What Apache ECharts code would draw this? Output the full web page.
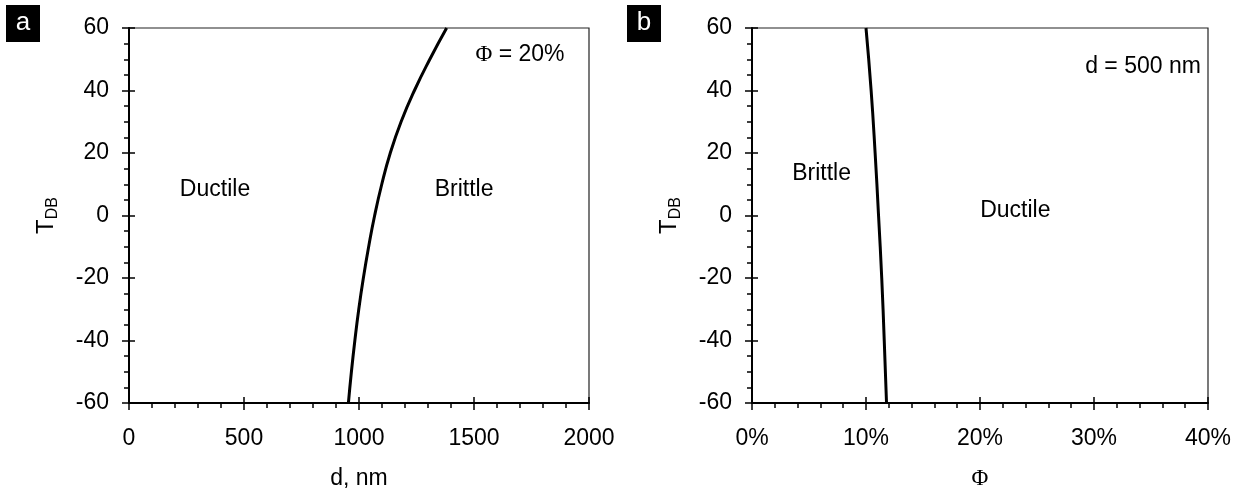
<!DOCTYPE html>
<html>
<head>
<meta charset="utf-8">
<script src="https://cdn.jsdelivr.net/npm/echarts@6/dist/echarts.min.js"></script>
<style>
html,body{margin:0;padding:0;background:#fff;}
#chart{width:1250px;height:495px;}
</style>
</head>
<body>
<div id="chart"></div>
<script>
// Panel a: T_DB vs d at Phi = 20%
const dA = [954, 967, 982, 999, 1019, 1042, 1068, 1099, 1136, 1183, 1241, 1308, 1381];
const tA = [-60, -50, -40, -30, -20, -10, 0, 10, 20, 30, 40, 50, 60];
// Panel b: T_DB vs Phi (%) at d = 500 nm
const phiB = [11.8, 11.6, 11.38, 11.1, 10.8, 10.45, 10.0];
const tB = [-60, -40, -20, 0, 20, 40, 60];
// Axis ticks
const xTicksA = [0, 500, 1000, 1500, 2000];
const xTicksB = [0, 10, 20, 30, 40];
const yTicks = [-60, -40, -20, 0, 20, 40, 60];
// Annotations [x, y, text]
const notesA = [[1700, 51.4, '{s|Φ} = 20%'], [1457, 8.4, 'Brittle'], [374, 8.4, 'Ductile']];
const notesB = [[34.3, 47.6, 'd = 500 nm'], [6.1, 13.5, 'Brittle'], [23.1, 1.4, 'Ductile']];

const FONT = 'Liberation Sans';
const SERIF = 'Liberation Serif';
const FS = 23;

function xAxisPair(grid, ticks, suffix, minorSplit, name, nameFont) {
  const min = ticks[0], max = ticks[ticks.length - 1], interval = ticks[1] - ticks[0];
  return [{
    type: 'value', gridIndex: grid, min, max, interval, position: 'bottom',
    name, nameLocation: 'middle', nameGap: 64,
    nameTextStyle: { fontFamily: nameFont, fontSize: FS, color: '#000' },
    axisLine: { show: true, onZero: false, lineStyle: { color: '#000', width: 2 } },
    axisTick: { show: true, inside: false, length: 7, lineStyle: { color: '#000', width: 1.5 } },
    minorTick: { show: true, splitNumber: minorSplit, length: 5, lineStyle: { color: '#000', width: 1.5 } },
    splitLine: { show: false },
    axisLabel: { fontFamily: FONT, fontSize: FS, color: '#000', margin: 24, formatter: v => String(v) + suffix }
  }, {
    type: 'value', gridIndex: grid, min, max, interval, position: 'bottom',
    axisLine: { show: false, onZero: false },
    axisTick: { show: true, inside: true, length: 6, lineStyle: { color: '#000', width: 1.5 } },
    splitLine: { show: false }, axisLabel: { show: false }
  }];
}
function yAxisPair(grid) {
  return [{
    type: 'value', gridIndex: grid, min: yTicks[0], max: yTicks[yTicks.length - 1], interval: yTicks[1] - yTicks[0], position: 'left',
    name: '{t|T}{s|DB}', nameLocation: 'middle', nameGap: 68, nameRotate: 90,
    nameTextStyle: { fontFamily: FONT, color: '#000',
      rich: { t: { fontFamily: FONT, fontSize: 24, color: '#000', lineHeight: 30, verticalAlign: 'middle' },
              s: { fontFamily: FONT, fontSize: 16, color: '#000', lineHeight: 30, verticalAlign: 'bottom', padding: [12, 0, 0, 0] } } },
    axisLine: { show: true, onZero: false, lineStyle: { color: '#000', width: 2 } },
    axisTick: { show: true, inside: false, length: 7, lineStyle: { color: '#000', width: 1.5 } },
    minorTick: { show: true, splitNumber: 4, length: 5, lineStyle: { color: '#000', width: 1.5 } },
    splitLine: { show: false },
    axisLabel: { fontFamily: FONT, fontSize: FS, color: '#000', margin: 20, formatter: v => String(v) }
  }, {
    type: 'value', gridIndex: grid, min: yTicks[0], max: yTicks[yTicks.length - 1], interval: yTicks[1] - yTicks[0], position: 'left',
    axisLine: { show: false, onZero: false },
    axisTick: { show: true, inside: true, length: 6, lineStyle: { color: '#000', width: 1.5 } },
    splitLine: { show: false }, axisLabel: { show: false }
  }];
}

function zip(xs, ys) { return xs.map((x, i) => [x, ys[i]]); }

const chart = echarts.init(document.getElementById('chart'), null, { renderer: 'canvas' });
chart.setOption({
  animation: false,
  backgroundColor: '#fff',
  grid: [
    { left: 129, top: 28, width: 460, height: 377, show: true, borderColor: '#222', borderWidth: 1.2, backgroundColor: 'transparent' },
    { left: 752, top: 28, width: 456, height: 377, show: true, borderColor: '#222', borderWidth: 1.2, backgroundColor: 'transparent' }
  ],
  xAxis: [
    ...xAxisPair(0, xTicksA, '', 5, 'd, nm', FONT),
    ...xAxisPair(1, xTicksB, '%', 5, 'Φ', SERIF)
  ],
  yAxis: [...yAxisPair(0), ...yAxisPair(1)],
  series: [
    { type: 'line', xAxisIndex: 0, yAxisIndex: 0, data: zip(dA, tA), smooth: 0.5, symbol: 'none',
      lineStyle: { color: '#000', width: 3 } },
    { type: 'line', xAxisIndex: 2, yAxisIndex: 2, data: zip(phiB, tB), smooth: 0.5, symbol: 'none',
      lineStyle: { color: '#000', width: 3 } }
  ]
});

// Annotations placed through the axes' own scales
function noteGraphics(notes, xi, yi) {
  return notes.map(n => {
    const p = chart.convertToPixel({ xAxisIndex: xi, yAxisIndex: yi }, [n[0], n[1]]);
    return { type: 'text', x: p[0], y: p[1], silent: true,
      style: { text: n[2], fill: '#000', fontFamily: FONT, fontSize: FS, align: 'center', verticalAlign: 'middle',
        rich: { s: { fontFamily: SERIF, fontSize: FS, fill: '#000' } } } };
  });
}
chart.setOption({
  graphic: [
    ...noteGraphics(notesA, 0, 0),
    ...noteGraphics(notesB, 2, 2),
    { type: 'group', left: 6, top: 5, children: [
      { type: 'rect', shape: { x: 0, y: 0, width: 34, height: 37 }, style: { fill: '#000' } },
      { type: 'text', x: 17, y: 18, style: { text: 'a', fill: '#fff', fontFamily: FONT, fontSize: 26, align: 'center', verticalAlign: 'middle' } }
    ]},
    { type: 'group', left: 627, top: 5, children: [
      { type: 'rect', shape: { x: 0, y: 0, width: 34, height: 37 }, style: { fill: '#000' } },
      { type: 'text', x: 17, y: 18, style: { text: 'b', fill: '#fff', fontFamily: FONT, fontSize: 26, align: 'center', verticalAlign: 'middle' } }
    ]}
  ]
});
</script>
</body>
</html>
